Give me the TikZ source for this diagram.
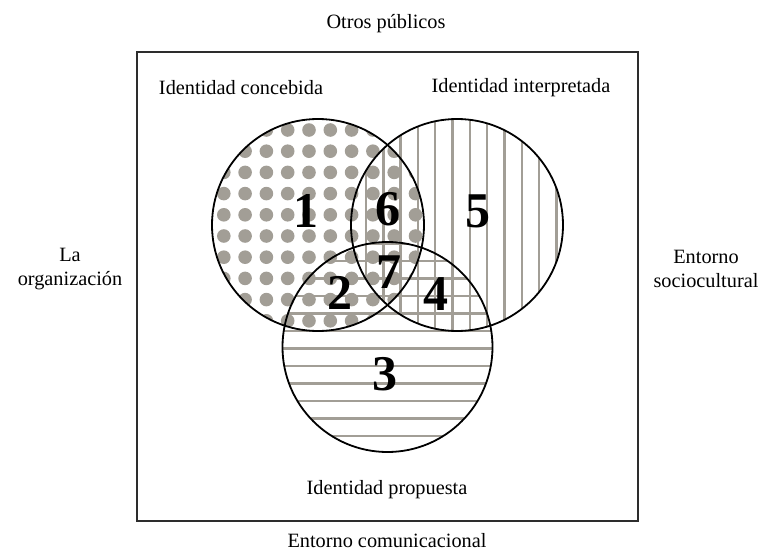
\documentclass[tikz,border=0pt]{standalone}
\usepackage{fontspec}
\setmainfont{Liberation Serif}
\definecolor{patgray}{RGB}{162,158,150}
\definecolor{framegray}{RGB}{45,45,45}
\begin{document}
\begin{tikzpicture}[x=1pt,y=-1pt,
  lbl/.style={font=\fontsize{20.3}{24}\selectfont, align=center, inner sep=0pt},
  num/.style={font=\fontsize{50}{50}\selectfont\bfseries, inner sep=0pt},
  hatch/.style={draw=patgray, line width=2.4pt},
  ring/.style={circle, draw=black, line width=1.8pt, inner sep=0pt, minimum size=212pt},
  frame/.style={draw=framegray, line width=2.3pt, inner sep=0pt, outer sep=0pt,
    minimum width=501pt, minimum height=469pt}]
\useasboundingbox (0,0) rectangle (761,552);

% outer frame
\node[frame] (box) at (387.5,286.5) {};

% dotted fill: concebida
\begin{scope}
  \clip (318,225) circle[radius=106pt];
  \foreach \i in {0,...,11}
    \foreach \j in {0,...,11}
      \fill[patgray] ({202.5+21.3*\i},{108.8+21.2*\j}) circle[radius=6.8pt];
\end{scope}

% vertical hatching: interpretada
\begin{scope}
  \clip (457,225) circle[radius=106pt];
  \foreach \k in {-1,...,12}
    \draw[hatch] ({366+17.3*\k},110) -- ++(0,240);
\end{scope}

% horizontal hatching: propuesta
\begin{scope}
  \clip (387.5,347) circle[radius=105pt];
  \foreach \k in {-6,...,7}
    \draw[hatch] (270,{331+17.5*\k}) -- ++(240,0);
\end{scope}

% circle outlines
\node[ring] (conc) at (318,225) {};
\node[ring] (interp) at (457,225) {};
\node[ring, minimum size=210pt] (prop) at (387.5,347) {};

% region numbers
\node[num] (n1) at (306,211) {1};
\node[num] (n6) at (388,209) {6};
\node[num] (n5) at (478,211) {5};
\node[num] (n7) at (389,272) {7};
\node[num] (n2) at (340,293) {2};
\node[num] (n4) at (436,294) {4};
\node[num] (n3) at (385,374) {3};

% labels
\node[lbl] (otros) at (386,24) {Otros públicos};
\node[lbl] (lconc) at (241,88) {Identidad concebida};
\node[lbl] (linterp) at (521,88) {Identidad interpretada};
\node[lbl] (lprop) at (387,490) {Identidad propuesta};
\node[lbl] (comun) at (387,541) {Entorno comunicacional};
\node[lbl] (org) at (70,269) {La\\organización};
\node[lbl] (socio) at (706,269) {Entorno\\sociocultural};
\end{tikzpicture}
\end{document}
